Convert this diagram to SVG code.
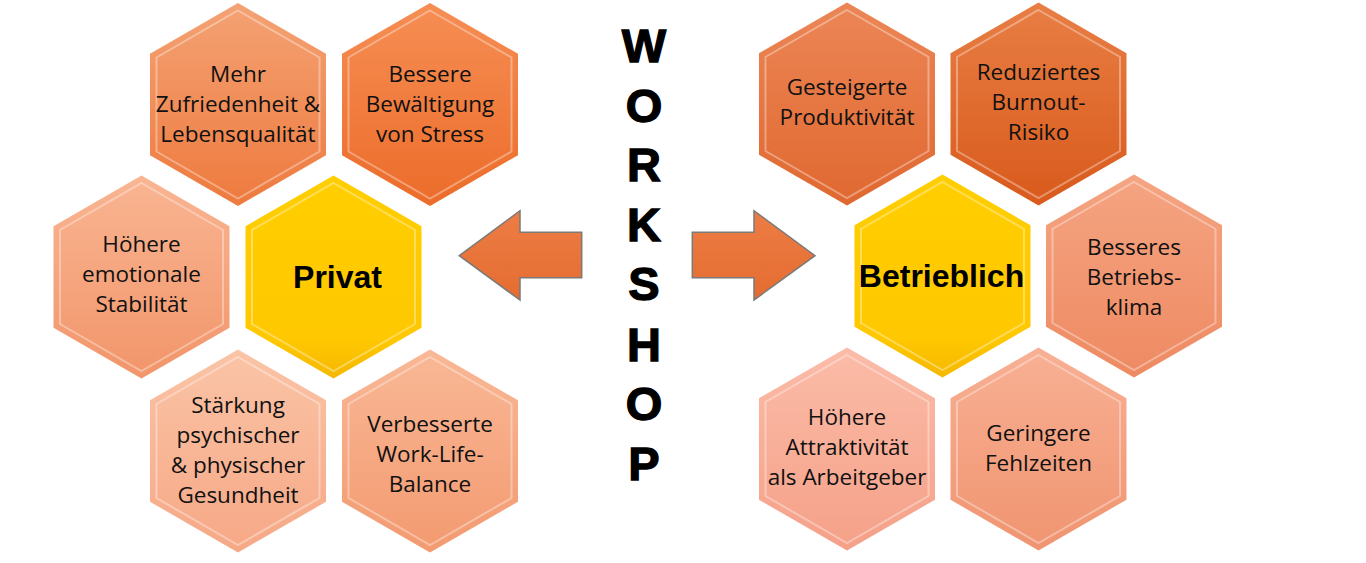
<svg xmlns="http://www.w3.org/2000/svg" xmlns:xlink="http://www.w3.org/1999/xlink" width="1366" height="563" viewBox="0 0 1366 563">
<style>
.t{font-family:"Open Sans","Liberation Sans",sans-serif;font-size:22.5px;fill:#111;text-anchor:middle}
.c{font-family:"Liberation Sans",Arial,sans-serif;font-size:32px;font-weight:bold;fill:#000;text-anchor:middle}
.w{font-family:"Liberation Sans",Arial,sans-serif;font-size:47px;font-weight:bold;fill:#000;stroke:#000;stroke-width:1.3;text-anchor:middle}
.bev{fill:none;stroke:#fff;stroke-opacity:.35;stroke-width:2}
.arr{fill:url(#gArr);stroke:#7a7a7a;stroke-width:1.5}
</style>
<defs>
<path id="hex" d="M0,-101.5 L88,-50.75 L88,50.75 L0,101.5 L-88,50.75 L-88,-50.75 Z"/>
<path id="hexIn" d="M0,-94 L81.5,-47 L81.5,47 L0,94 L-81.5,47 L-81.5,-47 Z"/>
<linearGradient id="g1" x1="0" y1="0" x2="0" y2="1"><stop offset="0" stop-color="#F4A274"/><stop offset="1" stop-color="#EE7A3E"/></linearGradient>
<linearGradient id="g2" x1="0" y1="0" x2="0" y2="1"><stop offset="0" stop-color="#F68E54"/><stop offset="1" stop-color="#EC6C2A"/></linearGradient>
<linearGradient id="g3" x1="0" y1="0" x2="0" y2="1"><stop offset="0" stop-color="#F9B592"/><stop offset="1" stop-color="#F2956A"/></linearGradient>
<linearGradient id="g4" x1="0" y1="0" x2="0" y2="1"><stop offset="0" stop-color="#FAC4A6"/><stop offset="1" stop-color="#F6A886"/></linearGradient>
<linearGradient id="g5" x1="0" y1="0" x2="0" y2="1"><stop offset="0" stop-color="#F9B896"/><stop offset="1" stop-color="#F39A70"/></linearGradient>
<linearGradient id="g6" x1="0" y1="0" x2="0" y2="1"><stop offset="0" stop-color="#EC8656"/><stop offset="1" stop-color="#E06830"/></linearGradient>
<linearGradient id="g7" x1="0" y1="0" x2="0" y2="1"><stop offset="0" stop-color="#E87E44"/><stop offset="1" stop-color="#D95A1C"/></linearGradient>
<linearGradient id="g8" x1="0" y1="0" x2="0" y2="1"><stop offset="0" stop-color="#F5A482"/><stop offset="1" stop-color="#EE8A62"/></linearGradient>
<linearGradient id="g9" x1="0" y1="0" x2="0" y2="1"><stop offset="0" stop-color="#FBBCA8"/><stop offset="1" stop-color="#F5A088"/></linearGradient>
<linearGradient id="g10" x1="0" y1="0" x2="0" y2="1"><stop offset="0" stop-color="#F8B094"/><stop offset="1" stop-color="#F09470"/></linearGradient>
<linearGradient id="gY" x1="0" y1="0" x2="0" y2="1"><stop offset="0" stop-color="#FFCE00"/><stop offset=".8" stop-color="#FFC800"/><stop offset="1" stop-color="#F5B800"/></linearGradient>
<linearGradient id="gArr" x1="0" y1="0" x2="0" y2="1"><stop offset="0" stop-color="#EC7D45"/><stop offset="1" stop-color="#E56C30"/></linearGradient>
</defs>

<g id="connectors">
<polygon class="arr" points="459.3,255.7 520,210.7 520,232.3 581.7,232.3 581.7,277.7 520,277.7 520,300"/>
<polygon class="arr" points="692.3,232.3 754,232.3 754,210.7 815,255.7 754,300 754,277.7 692.3,277.7"/>
</g>

<g id="workshop">
<text class="w" x="644" y="61.5">W</text>
<text class="w" x="644" y="121.5">O</text>
<text class="w" x="644" y="181">R</text>
<text class="w" x="644" y="240.5">K</text>
<text class="w" x="644" y="300">S</text>
<text class="w" x="644" y="360.5">H</text>
<text class="w" x="644" y="420">O</text>
<text class="w" x="644" y="480">P</text>
</g>

<g id="n-mehr" transform="translate(238,104.5)">
<use xlink:href="#hex" fill="url(#g1)"/><use xlink:href="#hexIn" class="bev"/>
<text class="t" y="-23">Mehr</text><text class="t" y="7">Zufriedenheit &amp;</text><text class="t" y="37">Lebensqualität</text>
</g>
<g id="n-bessere" transform="translate(430,104.5)">
<use xlink:href="#hex" fill="url(#g2)"/><use xlink:href="#hexIn" class="bev"/>
<text class="t" y="-23">Bessere</text><text class="t" y="7">Bewältigung</text><text class="t" y="37">von Stress</text>
</g>
<g id="n-emotional" transform="translate(141.5,277)">
<use xlink:href="#hex" fill="url(#g3)"/><use xlink:href="#hexIn" class="bev"/>
<text class="t" y="-25">Höhere</text><text class="t" y="5">emotionale</text><text class="t" y="35">Stabilität</text>
</g>
<g id="n-privat" transform="translate(333.5,277)">
<use xlink:href="#hex" fill="url(#gY)"/><use xlink:href="#hexIn" class="bev"/>
<text class="c" x="4" y="11">Privat</text>
</g>
<g id="n-staerkung" transform="translate(238,451)">
<use xlink:href="#hex" fill="url(#g4)"/><use xlink:href="#hexIn" class="bev"/>
<text class="t" y="-38">Stärkung</text><text class="t" y="-8">psychischer</text><text class="t" y="22">&amp; physischer</text><text class="t" y="52">Gesundheit</text>
</g>
<g id="n-worklife" transform="translate(430,451)">
<use xlink:href="#hex" fill="url(#g5)"/><use xlink:href="#hexIn" class="bev"/>
<text class="t" y="-19">Verbesserte</text><text class="t" y="11">Work-Life-</text><text class="t" y="41">Balance</text>
</g>

<g id="n-produktiv" transform="translate(847,104)">
<use xlink:href="#hex" fill="url(#g6)"/><use xlink:href="#hexIn" class="bev"/>
<text class="t" y="-9">Gesteigerte</text><text class="t" y="21">Produktivität</text>
</g>
<g id="n-burnout" transform="translate(1038.5,104)">
<use xlink:href="#hex" fill="url(#g7)"/><use xlink:href="#hexIn" class="bev"/>
<text class="t" y="-24">Reduziertes</text><text class="t" y="6">Burnout-</text><text class="t" y="36">Risiko</text>
</g>
<g id="n-betrieblich" transform="translate(942.5,276)">
<use xlink:href="#hex" fill="url(#gY)"/><use xlink:href="#hexIn" class="bev"/>
<text class="c" x="-1" y="11">Betrieblich</text>
</g>
<g id="n-klima" transform="translate(1134,276)">
<use xlink:href="#hex" fill="url(#g8)"/><use xlink:href="#hexIn" class="bev"/>
<text class="t" y="-21">Besseres</text><text class="t" y="9">Betriebs-</text><text class="t" y="39">klima</text>
</g>
<g id="n-attraktiv" transform="translate(847,449)">
<use xlink:href="#hex" fill="url(#g9)"/><use xlink:href="#hexIn" class="bev"/>
<text class="t" y="-24">Höhere</text><text class="t" y="6">Attraktivität</text><text class="t" y="36">als Arbeitgeber</text>
</g>
<g id="n-fehlzeiten" transform="translate(1038.5,449)">
<use xlink:href="#hex" fill="url(#g10)"/><use xlink:href="#hexIn" class="bev"/>
<text class="t" y="-8">Geringere</text><text class="t" y="22">Fehlzeiten</text>
</g>
</svg>
